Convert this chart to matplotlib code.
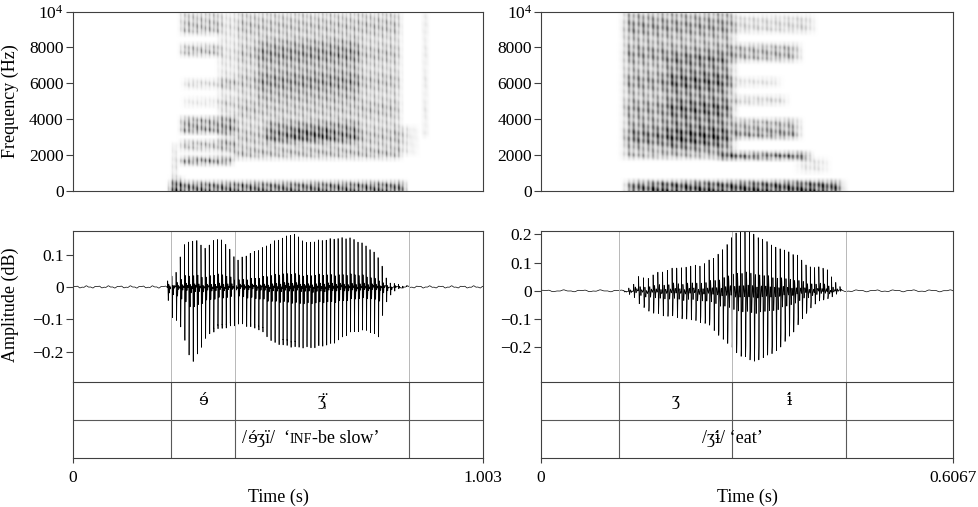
import numpy as np
import matplotlib
matplotlib.use("Agg")
from matplotlib import pyplot as plt
from matplotlib.offsetbox import TextArea, HPacker, AnnotationBbox

plt.rcParams['font.family'] = ['Liberation Serif', 'DejaVu Serif']
plt.rcParams['font.size'] = 12.5
plt.rcParams['axes.linewidth'] = 0.8
plt.rcParams['axes.edgecolor'] = '0.25'
plt.rcParams['xtick.color'] = '0.25'
plt.rcParams['ytick.color'] = '0.25'
plt.rcParams['xtick.labelcolor'] = 'black'
plt.rcParams['ytick.labelcolor'] = 'black'

FS = 16000
W, H = 979, 507
IPA = ['DejaVu Serif']

# ---------------- left token: /ɘ́ʒï/ 'INF-be slow' ----------------
L_DUR = 1.003
L_BOUNDS = [0.2409, 0.3965, 0.8223]
L_SEGS = ['ɘ́', 'ʒ̩̈']
L_WORD = [('/', None), ('ɘ́', IPA), ('ʒï/  \u2018', None), ('INF', 'small'), ('-be slow\u2019', None)]
L_WORD_X = 0.582
L_F0_T = [0.232, 0.40, 0.60, 0.822]
L_F0_HZ = [98, 100, 104, 100]
L_TOP_T = [0.2295, 0.2377, 0.2458, 0.2621, 0.2743, 0.2988, 0.3273, 0.3435, 0.3679, 0.3842,
           0.4005, 0.4250, 0.4657, 0.4983, 0.5390, 0.5716, 0.6041, 0.6367, 0.6774, 0.7100,
           0.7344, 0.7507, 0.7670, 0.7792, 0.8240]
L_TOP_V = [0.0, 0.068, 0.01, 0.094, 0.135, 0.145, 0.115, 0.145, 0.145, 0.115,
           0.083, 0.099, 0.12, 0.145, 0.166, 0.135, 0.145, 0.15, 0.15, 0.135,
           0.11, 0.085, 0.02, 0.01, 0.0]
L_BOT_T = [0.2295, 0.2360, 0.2418, 0.2621, 0.2784, 0.2906, 0.3069, 0.3273, 0.3517, 0.3842,
           0.4087, 0.4575, 0.4901, 0.5390, 0.5879, 0.6367, 0.6774, 0.7181, 0.7507, 0.7588,
           0.7751, 0.7996, 0.8240]
L_BOT_V = [0.0, -0.066, -0.092, -0.112, -0.185, -0.236, -0.205, -0.154, -0.133, -0.123,
           -0.112, -0.133, -0.174, -0.185, -0.19, -0.174, -0.143, -0.133, -0.154, -0.071,
           -0.025, -0.005, 0.0]
# spectrogram bands: start, end (s), low, high (Hz), darkness
L_BANDS = [
    (0.236, 0.812, 0, 520, 0.80),
    (0.240, 0.268, 0, 750, 0.50),
    (0.245, 0.251, 0, 2600, 0.50),
    (0.262, 0.390, 1450, 1900, 0.65),
    (0.390, 0.800, 1750, 2300, 0.40),
    (0.262, 0.400, 2200, 2800, 0.50),
    (0.262, 0.400, 3200, 4100, 0.70),
    (0.262, 0.360, 7500, 8200, 0.45),
    (0.262, 0.360, 8700, 10000, 0.45),
    (0.270, 0.400, 5700, 6200, 0.28),
    (0.270, 0.400, 4700, 5200, 0.20),
    (0.355, 0.400, 2000, 10000, 0.28),
    (0.400, 0.800, 2000, 10000, 0.45),
    (0.470, 0.700, 2700, 3900, 0.55),
    (0.450, 0.700, 5000, 8500, 0.40),
    (0.530, 0.630, 2900, 3500, 0.50),
    (0.790, 0.840, 2000, 3600, 0.28),
    (0.857, 0.863, 3000, 10000, 0.55),
]

# ---------------- right token: /ʒɨ́/ 'eat' ----------------
R_DUR = 0.6067
R_BOUNDS = [0.1153, 0.2817, 0.4491]
R_SEGS = ['ʒ', 'ɨ́']
R_WORD = [('/ʒ', None), ('ɨ́', IPA), ('/ \u2018eat\u2019', None)]
R_WORD_X = 0.2822
R_F0_T = [0.122, 0.25, 0.444]
R_F0_HZ = [138, 150, 162]
R_TOP_T = [0.1212, 0.1360, 0.1409, 0.1556, 0.1752, 0.1949, 0.2145, 0.2341, 0.2538, 0.2734,
           0.2881, 0.3078, 0.3274, 0.3520, 0.3765, 0.3912, 0.4207, 0.4354, 0.4452]
R_TOP_V = [0.0, 0.02, 0.05, 0.044, 0.067, 0.079, 0.085, 0.09, 0.114, 0.161,
           0.21, 0.21, 0.18, 0.15, 0.13, 0.09, 0.08, 0.025, 0.0]
R_BOT_T = [0.1212, 0.1360, 0.1458, 0.1654, 0.1949, 0.2145, 0.2440, 0.2734, 0.2930, 0.3127,
           0.3323, 0.3520, 0.3716, 0.3863, 0.4010, 0.4256, 0.4452]
R_BOT_V = [0.0, -0.02, -0.05, -0.08, -0.092, -0.10, -0.115, -0.186, -0.233, -0.256,
           -0.24, -0.21, -0.15, -0.10, -0.05, -0.025, 0.0]
R_BANDS = [
    (0.126, 0.445, 0, 560, 0.75),
    (0.160, 0.420, 0, 480, 0.30),
    (0.121, 0.284, 1800, 10000, 0.55),
    (0.185, 0.275, 2200, 7500, 0.45),
    (0.130, 0.270, 2500, 4000, 0.28),
    (0.262, 0.395, 1750, 2150, 0.80),
    (0.280, 0.380, 2900, 4000, 0.55),
    (0.280, 0.360, 4800, 5300, 0.32),
    (0.280, 0.350, 5800, 6300, 0.20),
    (0.280, 0.380, 7200, 8200, 0.45),
    (0.280, 0.400, 8800, 9800, 0.28),
    (0.380, 0.420, 1000, 1800, 0.20),
]


def pulse_times(f0_t, f0_hz):
    ts = [f0_t[0]]
    while True:
        nxt = ts[-1] + 1.0 / np.interp(ts[-1], f0_t, f0_hz)
        if nxt > f0_t[-1]:
            break
        ts.append(nxt)
    return np.array(ts)


def pulse_shape(tau, f1):
    return (np.exp(-tau / 0.002) * np.cos(2 * np.pi * f1 * tau)
            + 0.15 * np.exp(-tau / 0.001) * np.sin(2 * np.pi * 1900 * tau))


def make_wave(dur, pulses, top_t, top_v, bot_t, bot_v, f1):
    t = np.arange(0, dur, 1.0 / FS)
    s = np.zeros_like(t)
    for tp in pulses:
        tau = t - tp
        m = (tau >= 0) & (tau < 0.02)
        s[m] += pulse_shape(tau[m], f1)
    one = pulse_shape(np.arange(0, 0.02, 1.0 / FS), f1)
    pos = np.clip(s / one.max(), 0, 1)
    neg = np.clip(s / -one.min(), -1, 0)
    y = pos * np.interp(t, top_t, top_v) - neg * np.interp(t, bot_t, bot_v)
    y += 0.0022 * np.sin(2 * np.pi * 37 * t) + 0.0013 * np.sin(2 * np.pi * 93 * t + 1.0)
    return t, y


def make_spec(dur, pulses, bands, nt=1400, nf=260):
    t = np.linspace(0, dur, nt)
    f = np.linspace(0, 10000, nf)
    T, F = np.meshgrid(t, f)
    keep = np.ones_like(T)
    for t0, t1, f0, f1, lev in bands:
        wt = np.clip(np.minimum(T - t0, t1 - T) / 0.018 + 0.5, 0, 1)
        lo = F - f0 if f0 > 0 else np.full_like(F, 1e9)
        wf = np.clip(np.minimum(lo, f1 - F) / 380 + 0.5, 0, 1)
        keep *= 1 - lev * wt * wf
    img = 1 - keep
    d = np.abs(t[:, None] - pulses[None, :]).min(axis=1)
    stri = np.exp(-(d / 0.002) ** 2)
    img *= (0.42 + 0.58 * stri)[None, :]
    tex = 0.78 + 0.22 * np.sin(2 * np.pi * (F / 700 + T * 37)) * np.sin(2 * np.pi * (F / 1130 - T * 23))
    tex *= 0.88 + 0.12 * np.sin(2 * np.pi * F / 1530 + 1.7)
    return np.clip(1.35 * img * tex, 0, 1)


def px_axes(fig, l, r, top, bottom):
    return fig.add_axes([l / W, 1 - bottom / H, (r - l) / W, (bottom - top) / H])


def word_box(pieces):
    kids = []
    for txt, fam in pieces:
        props = dict(size=13)
        if fam == 'small':
            props['size'] = 10
        elif fam is not None:
            props.update(family=fam, size=12)
        kids.append(TextArea(txt, textprops=props))
    return HPacker(children=kids, align='baseline', pad=0, sep=0)


fig = plt.figure(figsize=(W / 100, H / 100), dpi=100)

panels = [
    dict(l=72.7, r=483.3, dur=L_DUR, bounds=L_BOUNDS, segs=L_SEGS, word=L_WORD, f0t=L_F0_T,
         f0=L_F0_HZ, tt=L_TOP_T, tv=L_TOP_V, bt=L_BOT_T, bv=L_BOT_V, bands=L_BANDS, f1=380,
         ylim=(-0.294, 0.173), yt=[-0.2, -0.1, 0, 0.1], durlab='1.003', wx=L_WORD_X),
    dict(l=541, r=953, dur=R_DUR, bounds=R_BOUNDS, segs=R_SEGS, word=R_WORD, f0t=R_F0_T,
         f0=R_F0_HZ, tt=R_TOP_T, tv=R_TOP_V, bt=R_BOT_T, bv=R_BOT_V, bands=R_BANDS, f1=420,
         ylim=(-0.3226, 0.2117), yt=[-0.2, -0.1, 0, 0.1, 0.2], durlab='0.6067', wx=R_WORD_X),
]

for i, p in enumerate(panels):
    pulses = pulse_times(p['f0t'], p['f0'])

    # spectrogram
    ax_s = px_axes(fig, p['l'], p['r'], 11.7, 190.7)
    img = make_spec(p['dur'], pulses, p['bands'])
    ax_s.imshow(img, extent=[0, p['dur'], 0, 10000], origin='lower', aspect='auto',
                cmap='Greys', vmin=0, vmax=1, interpolation='antialiased')
    ax_s.set_xlim(0, p['dur'])
    ax_s.set_ylim(0, 10000)
    ax_s.set_xticks([])
    ax_s.set_yticks([0, 2000, 4000, 6000, 8000, 10000])
    ax_s.set_yticklabels(['0', '2000', '4000', '6000', '8000', r'$\mathregular{10^4}$'])
    ax_s.tick_params(axis='y', direction='out', length=5, width=0.8, pad=1.5)

    # waveform
    ax_w = px_axes(fig, p['l'], p['r'], 231, 382)
    t, y = make_wave(p['dur'], pulses, p['tt'], p['tv'], p['bt'], p['bv'], p['f1'])
    ax_w.plot(t, y, color='black', lw=0.5)
    for b in p['bounds']:
        ax_w.axvline(b, color='0.72', lw=0.7)
    ax_w.set_xlim(0, p['dur'])
    ax_w.set_ylim(*p['ylim'])
    ax_w.set_xticks([])
    ax_w.set_yticks(p['yt'])
    ax_w.set_yticklabels([('\u2212%g' % -v) if v < 0 else '%g' % v for v in p['yt']])
    ax_w.tick_params(axis='y', direction='out', length=5, width=0.8, pad=1.5)
    ax_w.spines['bottom'].set_visible(False)

    # tiers
    ax_t = px_axes(fig, p['l'], p['r'], 382, 457.7)
    ax_t.set_xlim(0, p['dur'])
    ax_t.set_ylim(0, 2)
    ax_t.axhline(1, color='0.35', lw=0.8)
    for b in p['bounds']:
        ax_t.axvline(b, color='0.35', lw=0.8)
    b = p['bounds']
    for k, seg in enumerate(p['segs']):
        fam = IPA if '\u0301' in seg else None
        ax_t.text((b[k] + b[k + 1]) / 2, 1.5, seg, ha='center', va='center',
                  fontsize=12 if fam else 13, family=fam)
    ax_t.add_artist(AnnotationBbox(word_box(p['word']), (p['wx'], 0.5), xycoords='data',
                                   frameon=False, box_alignment=(0.5, 0.5), pad=0))
    ax_t.set_yticks([])
    ax_t.set_xticks([0, p['dur']])
    ax_t.set_xticklabels(['0', p['durlab']])
    ax_t.tick_params(axis='x', direction='out', length=3.5, width=0.8, pad=5)

    xc = (p['l'] + p['r']) / 2 / W
    fig.text(xc, 1 - 497 / H, 'Time (s)', ha='center', va='center', fontsize=13)

fig.text(10 / W, 1 - 101 / H, 'Frequency (Hz)', rotation=90, ha='center', va='center', fontsize=13)
fig.text(10 / W, 1 - 305 / H, 'Amplitude (dB)', rotation=90, ha='center', va='center', fontsize=13)

fig.savefig('out.png', dpi=100)
